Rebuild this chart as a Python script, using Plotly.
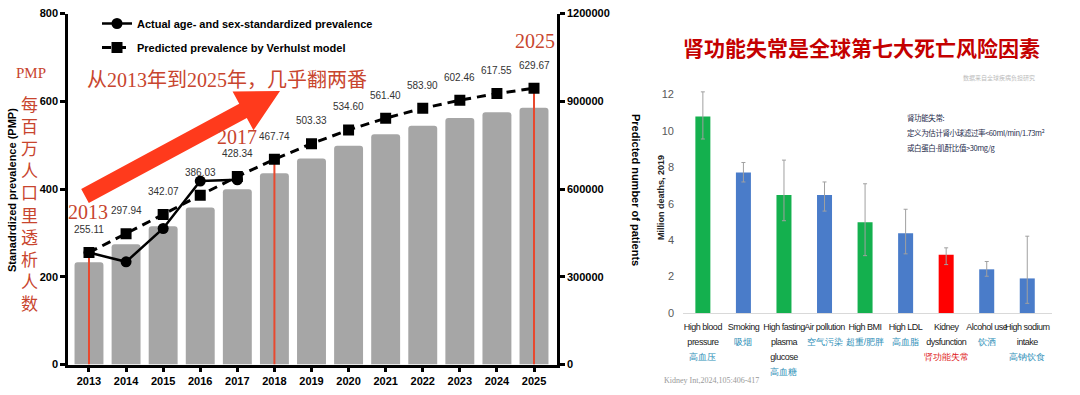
import plotly.graph_objects as go
import math

# ---------------- data: left chart ----------------
years = ["2013", "2014", "2015", "2016", "2017", "2018", "2019",
         "2020", "2021", "2022", "2023", "2024", "2025"]
patients = [350000, 411000, 473000, 537000, 599000, 654000, 704000,
            748000, 787000, 816000, 843000, 862000, 878000]
predicted_pmp = [255.11, 297.94, 342.07, 386.03, 428.34, 467.74, 503.33,
                 534.60, 561.40, 583.90, 602.46, 617.55, 629.67]
actual_years = ["2013", "2014", "2015", "2016", "2017"]
actual_pmp = [255.11, 234.0, 310.0, 418.0, 421.0]
highlight_years = ["2013", "2018", "2025"]
pmp_ticks = [0, 200, 400, 600, 800]
patient_ticks = [0, 300000, 600000, 900000, 1200000]

# ---------------- data: right chart ----------------
risk_en = ["High blood<br>pressure", "Smoking", "High fasting<br>plasma<br>glucose",
           "Air pollution", "High BMI", "High LDL", "Kidney<br>dysfunction",
           "Alcohol use", "High sodium<br>intake"]
risk_zh = ["高血压", "吸烟", "高血糖", "空气污染", "超重/肥胖", "高血脂",
           "肾功能失常", "饮酒", "高钠饮食"]
deaths = [10.8, 7.72, 6.48, 6.48, 4.98, 4.38, 3.2, 2.4, 1.9]
deaths_hi = [12.15, 8.27, 8.4, 7.2, 7.1, 5.7, 3.58, 2.83, 4.22]
deaths_lo = [9.56, 7.2, 5.07, 5.6, 3.15, 3.25, 2.66, 2.02, 0.53]
risk_group = ["metabolic", "behav", "metabolic", "behav", "metabolic",
              "behav", "kidney", "behav", "behav"]
death_ticks = [0, 2, 4, 6, 8, 10, 12]

W, H = 1080, 395
def px(x):
    return x / W
def py(y):
    return 1 - y / H

RED_LINE = "#E8492F"
RED_TXT = "#C8452E"
FONT = "Liberation Sans, Arial, sans-serif"
SERIF = "Liberation Serif, Noto Sans CJK SC, serif"

fig = go.Figure()

# bars (patients, primary axis on right side)
fig.add_trace(go.Bar(x=years, y=patients, marker=dict(color="#A6A6A6", line=dict(width=0)),
                     width=0.78, xaxis="x", yaxis="y", showlegend=False, hoverinfo="skip"))

# red vertical lines
pred_map = dict(zip(years, predicted_pmp))
for yr in highlight_years:
    fig.add_trace(go.Scatter(x=[yr, yr], y=[0, pred_map[yr]], mode="lines",
                             line=dict(color=RED_LINE, width=2), xaxis="x", yaxis="y2",
                             showlegend=False, hoverinfo="skip"))

fig.add_trace(go.Scatter(x=actual_years, y=actual_pmp, mode="lines+markers",
                         name="Actual age- and sex-standardized prevalence",
                         legendgroup="a",
                         line=dict(color="black", width=2.5),
                         marker=dict(symbol="circle", size=11, color="black"),
                         xaxis="x", yaxis="y2"))
fig.add_trace(go.Scatter(x=years, y=predicted_pmp, mode="lines+markers",
                         name="Predicted prevalence by Verhulst model",
                         legendgroup="b",
                         line=dict(color="black", width=3, dash="9px,6px"),
                         marker=dict(symbol="square", size=11, color="black"),
                         xaxis="x", yaxis="y2"))

annotations = []
for i, v in enumerate(predicted_pmp):
    annotations.append(dict(x=i, y=v, xref="x", yref="y2", text=f"{v:.2f}",
                            showarrow=False, yshift=23, xanchor="center", yanchor="middle",
                            font=dict(family=FONT, size=10, color="#333333")))

# ---------------- right chart bars ----------------
colors = {"metabolic": "#14B04E", "behav": "#4A7CC9", "kidney": "#FF0000"}
fig.add_trace(go.Bar(
    x=list(range(len(deaths))), y=deaths, width=0.37,
    marker=dict(color=[colors[g] for g in risk_group], line=dict(width=0), cornerradius=0),
    error_y=dict(type="data", symmetric=False,
                 array=[h - d for h, d in zip(deaths_hi, deaths)],
                 arrayminus=[d - l for d, l in zip(deaths, deaths_lo)],
                 color="#A0A0A0", thickness=1, width=2),
    xaxis="x3", yaxis="y3", showlegend=False, hoverinfo="skip"))

EN_STYLE = "font-size:9px;letter-spacing:-0.5px"
ticktext = []
for en, zh, g in zip(risk_en, risk_zh, risk_group):
    c = "#E02020" if g == "kidney" else "#2E8FB8"
    en_lines = "<br>".join(f"<span style='{EN_STYLE}'>{s}</span>" for s in en.split("<br>"))
    ticktext.append(f"{en_lines}<br><span style='color:{c};font-size:9px'>{zh}</span>")


def note(x, y, text, size, color, family, **kw):
    d = dict(x=px(x), y=py(y), xref="paper", yref="paper", text=text, showarrow=False,
             xanchor=kw.pop("xanchor", "center"), yanchor=kw.pop("yanchor", "middle"),
             font=dict(family=family, size=size, color=color))
    d.update(kw)
    return d

BOX = "font-size:7.5px;letter-spacing:-0.4px"
# ---------------- text annotations ----------------
annotations += [
    note(12, 190, "<b>Stanadrdized prevalence (PMP)</b>", 11, "black", FONT, textangle=-90),
    note(636, 190, "<b>Predicted number of patients</b>", 11, "black", FONT, textangle=90),
    note(31, 73, "PMP", 15, RED_TXT, SERIF),
    note(29, 205, "<br>".join(list("每百万人口里透析人数")), 17, RED_TXT, SERIF),
    note(85, 80, "从2013年到2025年，几乎翻两番", 20, RED_TXT, SERIF, xanchor="left"),
    note(88, 212, "2013", 20, RED_TXT, SERIF),
    note(237, 137, "2017", 20, RED_TXT, SERIF),
    note(535, 41, "2025", 20, RED_TXT, SERIF),
    # right chart
    note(861, 47, "<b>肾功能失常是全球第七大死亡风险因素</b>", 21, "#C40000", "Noto Sans CJK SC"),
    note(1037, 77, "数据来自全球疾病负担研究", 6, "#BBBBBB", "Noto Sans CJK SC", xanchor="right"),
    note(905, 110,
         f"<span style='{BOX}'>肾功能失常:</span><br>"
         f"<span style='{BOX}'>定义为估计肾小球滤过率&lt;60ml/min/1.73m<sup>2</sup></span><br>"
         f"<span style='{BOX}'>或白蛋白-肌酐比值&gt;30mg/g</span>",
         11.5, "#1F2D4D", "Noto Sans CJK SC", xanchor="left", yanchor="top", align="left"),
    note(661, 198, "<b>Million deaths, 2019</b>", 9, "#222222", FONT, textangle=-90),
    note(662, 380, "Kidney Int,2024,105:406-417", 8, "#999999", "Liberation Serif, serif",
         xanchor="left"),
]

# ---------------- big red arrow ----------------
tail = (85, 196)
tip = (280, 91)
dx, dy = tip[0] - tail[0], tip[1] - tail[1]
ln = math.hypot(dx, dy)
ux, uy = dx / ln, dy / ln
nx, ny = -uy, ux
L, w, Wd = 42, 8, 22
bx, by = tip[0] - L * ux, tip[1] - L * uy
pts = [(tail[0] + w * nx, tail[1] + w * ny), (bx + w * nx, by + w * ny),
       (bx + Wd * nx, by + Wd * ny), tip, (bx - Wd * nx, by - Wd * ny),
       (bx - w * nx, by - w * ny), (tail[0] - w * nx, tail[1] - w * ny)]
path = "M " + " L ".join(f"{px(a):.5f},{py(b):.5f}" for a, b in pts) + " Z"
shapes = [dict(type="path", path=path, xref="paper", yref="paper",
               fillcolor="#FF3A1C", line=dict(width=0), layer="above")]

axis_font = dict(family=FONT, size=11, color="black", weight="bold")
fig.update_layout(
    width=W, height=H, margin=dict(l=0, r=0, t=0, b=0, autoexpand=False),
    paper_bgcolor="white", plot_bgcolor="rgba(0,0,0,0)",
    barcornerradius=3,
    xaxis=dict(domain=[px(68), px(557)], type="category", range=[-0.566, 12.62],
               showline=True, linecolor="black", linewidth=2.5, ticks="outside",
               ticklen=5, tickwidth=2.5, tickcolor="black", tickfont=axis_font,
               showgrid=False, zeroline=False, anchor="y", automargin=False),
    yaxis=dict(domain=[py(364.5), py(13.5)], range=[0, 1200000], tickvals=patient_ticks,
               tickformat="d", side="right", showline=True, linecolor="black", linewidth=2.5,
               ticks="outside", ticklen=5, tickwidth=2.5, tickcolor="black",
               tickfont=axis_font, showgrid=False, zeroline=False, anchor="x",
               automargin=False),
    yaxis2=dict(domain=[py(364.5), py(13.5)], range=[0, 800], tickvals=pmp_ticks,
                overlaying="y", side="left", showline=True, linecolor="black", linewidth=2.5,
                ticks="outside", ticklen=5, tickwidth=2.5, tickcolor="black",
                tickfont=axis_font, showgrid=False, zeroline=False, anchor="x",
                automargin=False),
    xaxis3=dict(domain=[px(683), px(1052)], range=[-0.49, 8.61],
                tickvals=list(range(len(deaths))), ticktext=ticktext, tickangle=0,
                showline=True, linecolor="#D9D9D9", linewidth=1, ticks="",
                tickfont=dict(family=FONT, size=11.5, color="#1A1A1A"),
                ticklabelstandoff=2,
                showgrid=False, zeroline=False, anchor="y3", automargin=False),
    yaxis3=dict(domain=[py(313), py(85.5)], range=[0, 12.5], tickvals=death_ticks,
                showline=False, ticks="", showgrid=False, zeroline=False,
                tickfont=dict(family="Liberation Sans Narrow, Liberation Sans, sans-serif",
                              size=11, color="#595959"),
                ticklabelstandoff=8, anchor="x3", automargin=False),
    legend=dict(x=px(97), y=py(9), xanchor="left", yanchor="top",
                bgcolor="rgba(0,0,0,0)", traceorder="grouped", tracegroupgap=5,
                font=dict(family=FONT, size=11, color="black", weight="bold")),
    annotations=annotations,
    shapes=shapes,
)

fig.write_html("out.html", post_script="document.body.style.margin='0';",
               config={"displayModeBar": False})
